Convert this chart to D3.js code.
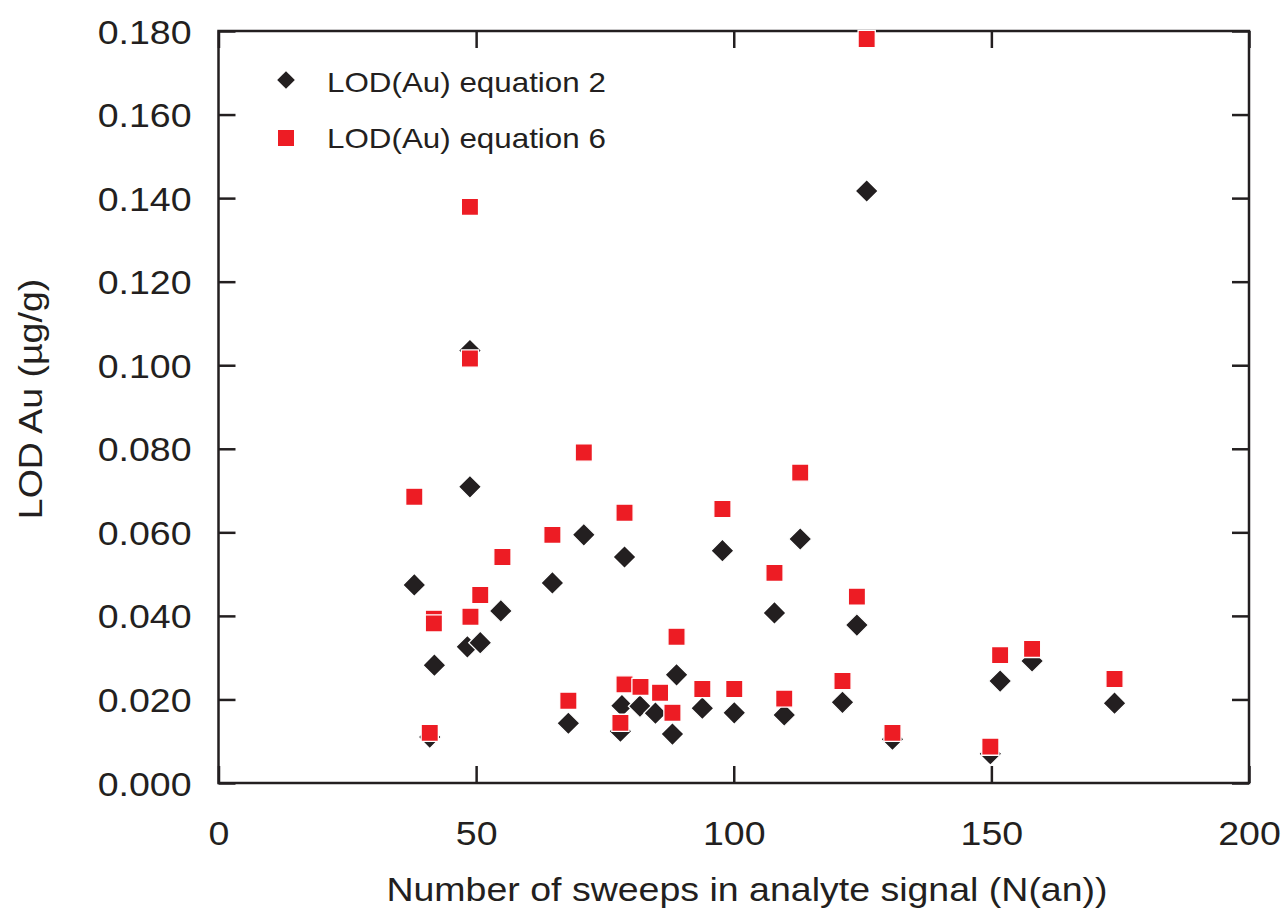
<!DOCTYPE html>
<html>
<head>
<meta charset="utf-8">
<script src="https://cdn.jsdelivr.net/npm/d3@7"></script>
<style>
  html, body { margin: 0; padding: 0; background: #fff; }
  svg text { font-family: "Liberation Sans", Arial, sans-serif; fill: #231f20; }
</style>
</head>
<body>
<svg id="chart" width="1287" height="915"></svg>
<script>
// ---- data ----
const seriesNames = ["LOD(Au) equation 2", "LOD(Au) equation 6"];
const eq2X = [38.0, 41.0, 41.9, 48.3, 48.8, 48.8, 50.8, 54.8, 64.8, 67.9, 70.9, 78.0, 78.3, 78.8, 81.8, 84.8, 88.1, 88.9, 93.9, 97.8, 100.1, 107.9, 109.8, 112.9, 121.1, 123.9, 125.8, 130.8, 149.8, 151.7, 157.9, 173.9];
const eq2Y = [0.0474, 0.0110, 0.0282, 0.0326, 0.1035, 0.0709, 0.0336, 0.0412, 0.0479, 0.0143, 0.0594, 0.0124, 0.0185, 0.0541, 0.0184, 0.0167, 0.0117, 0.0259, 0.0179, 0.0556, 0.0168, 0.0407, 0.0163, 0.0584, 0.0193, 0.0378, 0.1417, 0.0105, 0.0070, 0.0244, 0.0292, 0.0191];
const eq6X = [38.0, 41.0, 41.8, 41.8, 48.8, 48.8, 48.9, 50.8, 55.1, 64.8, 67.9, 70.9, 78.0, 78.8, 78.8, 81.9, 85.7, 88.1, 88.9, 93.9, 97.8, 100.1, 107.9, 109.8, 112.9, 121.1, 123.9, 125.8, 130.8, 149.8, 151.7, 157.9, 173.9];
const eq6Y = [0.0685, 0.0120, 0.0393, 0.0382, 0.1379, 0.1016, 0.0398, 0.0450, 0.0541, 0.0594, 0.0197, 0.0791, 0.0144, 0.0647, 0.0236, 0.0230, 0.0216, 0.0168, 0.0350, 0.0225, 0.0656, 0.0225, 0.0503, 0.0202, 0.0743, 0.0244, 0.0446, 0.1781, 0.0120, 0.0087, 0.0306, 0.0321, 0.0249];
const xTicks = [0, 50, 100, 150, 200];
const yTicks = [0, 0.02, 0.04, 0.06, 0.08, 0.10, 0.12, 0.14, 0.16, 0.18];
const xTitle = "Number of sweeps in analyte signal (N(an))";
const yTitle = "LOD Au (µg/g)";

// ---- layout ----
const svg = d3.select("#chart");
const L = 218.5, R = 1249, T = 31, B = 783;
const INK = "#231f20", RED = "#ed1c24";
const SX = 1.12; // horizontal text stretch
const FS = 33.5;
const tickLen = 17;

const x = d3.scaleLinear().domain([0, 200]).range([L, R]);
const y = d3.scaleLinear().domain([0, 0.18]).range([B, T]);

function styleAxis(g) {
  g.select(".domain").remove();
  g.selectAll("line").attr("stroke", INK).attr("stroke-width", 2.5);
}

// bottom axis with labels
const gxb = svg.append("g").attr("transform", `translate(0,${B})`)
  .call(d3.axisBottom(x).tickValues(xTicks).tickSize(-tickLen).tickFormat(d3.format("d")));
styleAxis(gxb);
gxb.selectAll("text").attr("y", 62.5).attr("dy", 0).attr("font-size", FS)
  .attr("transform", `scale(${SX},1)`).attr("fill", INK);

// top axis (ticks only)
const gxt = svg.append("g").attr("transform", `translate(0,${T})`)
  .call(d3.axisTop(x).tickValues(xTicks).tickSize(-tickLen).tickFormat(""));
styleAxis(gxt);

// left axis with labels
const gyl = svg.append("g").attr("transform", `translate(${L},0)`)
  .call(d3.axisLeft(y).tickValues(yTicks).tickSize(-tickLen).tickFormat(d3.format(".3f")));
styleAxis(gyl);
gyl.selectAll("text").attr("x", -27 / SX).attr("dy", "0.36em").attr("font-size", FS)
  .attr("transform", `scale(${SX},1)`).attr("fill", INK);

// right axis (ticks only)
const gyr = svg.append("g").attr("transform", `translate(${R},0)`)
  .call(d3.axisRight(y).tickValues(yTicks).tickSize(-tickLen).tickFormat(""));
styleAxis(gyr);

// frame
svg.append("rect").attr("x", L).attr("y", T).attr("width", R - L).attr("height", B - T)
  .attr("fill", "none").attr("stroke", INK).attr("stroke-width", 2.5);

// ---- markers ----
const eq2 = eq2X.map((v, i) => ({ x: v, y: eq2Y[i] }));
const eq6 = eq6X.map((v, i) => ({ x: v, y: eq6Y[i] }));

const diamondPath = d3.symbol().type(d3.symbolSquare).size(16.3 * 16.3)();
const squarePath = d3.symbol().type(d3.symbolSquare).size(17.2 * 17.2)();

svg.append("g").selectAll("path").data(eq2).join("path")
  .attr("d", diamondPath)
  .attr("transform", d => `translate(${x(d.x)},${y(d.y)}) rotate(45)`)
  .attr("fill", INK).attr("stroke", "#fff").attr("stroke-width", 1.3);

svg.append("g").selectAll("path").data(eq6).join("path")
  .attr("d", squarePath)
  .attr("transform", d => `translate(${x(d.x)},${y(d.y)})`)
  .attr("fill", RED).attr("stroke", "#fff").attr("stroke-width", 1.3);

// ---- legend ----
const legend = svg.append("g");
const legendItems = [
  { name: seriesNames[0], cy: 80, path: d3.symbol().type(d3.symbolSquare).size(12.5 * 12.5)(), rot: 45, fill: INK, base: 91.7 },
  { name: seriesNames[1], cy: 138, path: d3.symbol().type(d3.symbolSquare).size(16 * 16)(), rot: 0, fill: RED, base: 148.3 }
];
legendItems.forEach(it => {
  legend.append("path").attr("d", it.path)
    .attr("transform", `translate(286,${it.cy}) rotate(${it.rot})`).attr("fill", it.fill);
  legend.append("text").text(it.name)
    .attr("transform", `translate(327,${it.base}) scale(${SX},1)`)
    .attr("font-size", 28).attr("fill", INK);
});

// ---- titles ----
svg.append("text").text(xTitle)
  .attr("transform", `translate(747,901) scale(${SX},1)`)
  .attr("text-anchor", "middle").attr("font-size", FS).attr("fill", INK);

svg.append("text").text(yTitle)
  .attr("transform", `translate(41.5,399) rotate(-90) scale(${SX},1)`)
  .attr("text-anchor", "middle").attr("font-size", FS).attr("fill", INK);
</script>
</body>
</html>
